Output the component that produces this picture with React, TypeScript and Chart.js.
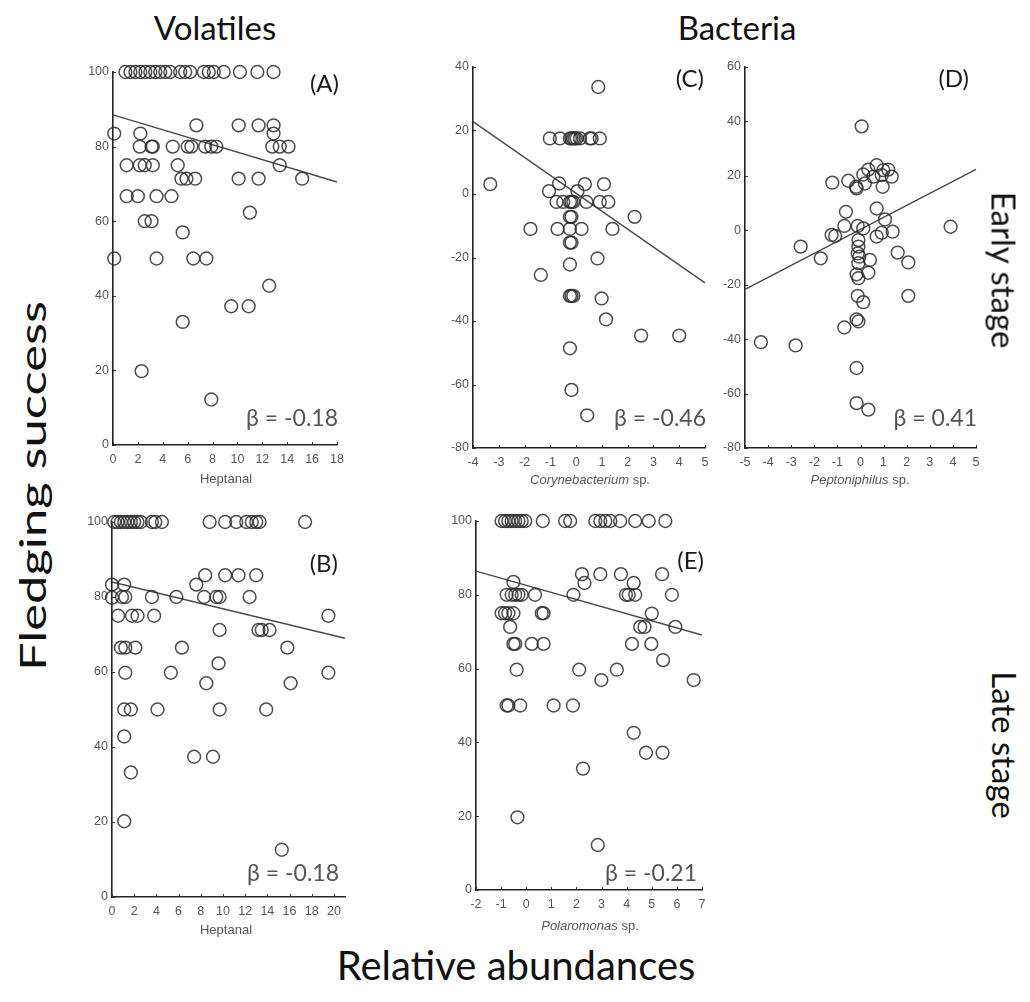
import React, { useEffect, useRef } from "react";
import { Chart, registerables } from "chart.js";
Chart.register(...registerables);

// ---------- DATA ----------
// Panel A: Heptanal (early) vs fledging success
const panelAPoints: number[][] = [
  [1.0, 100], [1.4, 100], [1.8, 100], [2.2, 100], [2.6, 100], [3.0, 100], [3.4, 100], [3.8, 100], [4.2, 100], [4.6, 100],
  [5.4, 100], [5.8, 100], [6.2, 100], [7.3, 100], [7.7, 100], [8.1, 100], [8.9, 100], [10.2, 100], [11.6, 100], [12.9, 100],
  [0.1, 83.5], [2.2, 83.5], [2.15, 80], [3.1, 80], [3.2, 80], [4.8, 80], [6.0, 80], [6.3, 80], [7.4, 80], [7.9, 80], [8.3, 80],
  [6.7, 85.7], [10.1, 85.7], [11.7, 85.7], [12.9, 85.7], [12.9, 83.5], [12.8, 80], [13.4, 80], [14.1, 80],
  [13.4, 75], [15.2, 71.4], [1.1, 75], [2.15, 75], [2.55, 75], [3.2, 75], [5.2, 75],
  [5.5, 71.4], [5.9, 71.4], [6.6, 71.4], [10.1, 71.4], [11.7, 71.4],
  [1.1, 66.7], [2.0, 66.7], [3.5, 66.7], [4.7, 66.7], [11.0, 62.3], [2.55, 60], [3.1, 60], [5.6, 57],
  [0.1, 50], [3.5, 50], [6.45, 50], [7.5, 50], [12.55, 42.7], [9.5, 37.2], [10.9, 37.2], [5.6, 33], [2.3, 19.8], [7.9, 12.2],
];
const panelALine: number[][] = [[0, 88.5], [18, 70.5]];

// Panel B: Heptanal (late) vs fledging success
const panelBPoints: number[][] = [
  [0.2, 100], [0.5, 100], [0.8, 100], [1.1, 100], [1.4, 100], [1.7, 100], [2.0, 100], [2.3, 100], [2.6, 100], [3.6, 100], [3.9, 100], [4.5, 100],
  [8.8, 100], [10.2, 100], [11.2, 100], [12.1, 100], [12.6, 100], [13.0, 100], [13.3, 100], [17.4, 100],
  [0, 83.3], [1.1, 83.3], [0, 79.8], [0.9, 80], [1.2, 80], [3.6, 80], [5.8, 80], [7.6, 83.3],
  [8.4, 85.8], [10.2, 85.8], [11.4, 85.8], [13.0, 85.8], [8.3, 80], [9.4, 80], [9.7, 80], [12.4, 80],
  [0.55, 75], [1.8, 75], [2.3, 75], [3.8, 75], [19.5, 75],
  [9.7, 71.2], [13.2, 71.2], [13.5, 71.2], [14.2, 71.2],
  [0.8, 66.5], [1.2, 66.5], [2.1, 66.5], [6.3, 66.5], [15.8, 66.5], [9.6, 62.3],
  [1.2, 59.8], [5.3, 59.8], [19.5, 59.8], [8.5, 57], [16.1, 57],
  [1.1, 50], [1.7, 50], [4.1, 50], [9.7, 50], [13.9, 50], [1.1, 42.8], [1.7, 33.2], [7.4, 37.4], [9.1, 37.4],
  [1.1, 20.2], [15.3, 12.6],
];
const panelBLine: number[][] = [[0, 84], [21, 69]];

// Panel C: Corynebacterium sp. (early), residual fledging success
const panelCPoints: number[][] = [
  [0.86, 33.7],
  [-1.02, 17.5], [-0.63, 17.5], [-0.24, 17.5], [-0.18, 17.5], [-0.11, 17.5], [-0.05, 17.5], [0.02, 17.5], [0.15, 17.5], [0.53, 17.5], [0.6, 17.5], [0.92, 17.5],
  [-3.33, 3.1], [-1.05, 0.9], [-0.66, 3.3], [0.34, 3.1], [1.08, 3.1], [0.05, 0.9],
  [-0.76, -2.5], [-0.5, -2.5], [-0.24, -2.5], [-0.18, -2.5], [-0.11, -2.5], [0.4, -2.5], [0.92, -2.5], [1.25, -2.5],
  [-0.18, -7.2], [-0.24, -7.2], [2.27, -7.2],
  [-1.77, -11], [-0.72, -11], [-0.24, -11], [0.21, -11], [1.41, -11],
  [-0.18, -15.3], [-0.24, -15.3], [0.83, -20.3], [-1.37, -25.5], [-0.24, -22.2],
  [-0.18, -32.1], [-0.24, -32.1], [-0.11, -32.1], [0.99, -32.9], [1.16, -39.5],
  [2.52, -44.6], [4.0, -44.6], [-0.24, -48.6], [-0.18, -61.7], [0.43, -69.7],
];
const panelCLine: number[][] = [[-4, 22.8], [5, -28]];

// Panel D: Peptoniphilus sp. (early), residual fledging success
const panelDPoints: number[][] = [
  [0.05, 38.2], [-1.22, 17.5], [-0.53, 18.2], [-0.19, 16.0], [-0.17, 15.4],
  [0.12, 20.5], [0.34, 22.3], [0.7, 23.9], [0.99, 22.1], [1.2, 22.3], [1.35, 19.7], [0.56, 19.7], [0.92, 20.3], [0.19, 17.2], [0.96, 16.0],
  [-2.59, -6.0], [-0.63, 6.8], [0.7, 8.0], [1.06, 4.0],
  [-0.7, 1.6], [-0.12, 1.6], [0.12, 0.7], [-1.25, -1.7], [-1.1, -2.1], [0.7, -2.3], [0.92, -0.9], [1.39, -0.5],
  [3.9, 1.3], [-1.72, -10.3],
  [-0.09, -3.6], [-0.09, -6.0], [-0.12, -8.5], [-0.05, -9.7], [-0.09, -12.1], [0.41, -10.9], [0.34, -15.6], [-0.17, -16.2], [-0.09, -17.6],
  [1.61, -8.2], [2.07, -11.8], [2.07, -24.1], [-0.12, -24.1], [0.12, -26.4],
  [-0.09, -33.5], [-0.17, -32.7], [-0.7, -35.7], [-4.31, -41.1], [-2.81, -42.3],
  [-0.17, -50.6], [-0.17, -63.5], [0.34, -65.9],
];
const panelDLine: number[][] = [[-5, -21.7], [5, 22.4]];

// Panel E: Polaromonas sp. (late) vs fledging success
const panelEPoints: number[][] = [
  [-0.98, 100], [-0.84, 100], [-0.71, 100], [-0.58, 100], [-0.44, 100], [-0.31, 100], [-0.18, 100], [-0.04, 100],
  [0.66, 100], [1.55, 100], [1.75, 100], [2.75, 100], [2.95, 100], [3.15, 100], [3.35, 100], [3.74, 100], [4.34, 100], [4.88, 100], [5.54, 100],
  [2.22, 85.6], [2.95, 85.6], [3.77, 85.6], [5.41, 85.6], [-0.51, 83.5], [2.32, 83.2], [4.28, 83.2],
  [-0.78, 80], [-0.58, 80], [-0.44, 80], [-0.31, 80], [-0.18, 80], [0.35, 80], [1.88, 80], [3.97, 80], [4.08, 80], [4.34, 80], [5.8, 80],
  [5.0, 74.9], [-0.98, 75], [-0.84, 75], [-0.71, 75], [-0.51, 75], [0.62, 75], [0.69, 75],
  [-0.64, 71.3], [4.54, 71.3], [4.71, 71.3], [5.94, 71.3],
  [-0.51, 66.7], [-0.44, 66.7], [0.22, 66.7], [0.69, 66.7], [4.21, 66.7], [4.98, 66.7],
  [5.45, 62.3], [-0.38, 59.7], [2.11, 59.7], [3.61, 59.7], [2.99, 56.9], [6.67, 56.9],
  [-0.78, 50], [-0.71, 50], [-0.24, 50], [1.09, 50], [1.86, 50],
  [4.28, 42.6], [4.77, 37.2], [5.43, 37.2], [2.26, 32.9], [-0.35, 19.7], [2.85, 12.2],
];
const panelELine: number[][] = [[-2, 86.4], [7, 69.1]];

// Tick values
const ticksY100 = [0, 20, 40, 60, 80, 100];
const ticksYC = [-80, -60, -40, -20, 0, 20, 40];
const ticksYD = [-80, -60, -40, -20, 0, 20, 40, 60];
const ticksXA = [0, 2, 4, 6, 8, 10, 12, 14, 16, 18];
const ticksXB = [0, 2, 4, 6, 8, 10, 12, 14, 16, 18, 20];
const ticksXC = [-4, -3, -2, -1, 0, 1, 2, 3, 4, 5];
const ticksXD = [-5, -4, -3, -2, -1, 0, 1, 2, 3, 4, 5];
const ticksXE = [-2, -1, 0, 1, 2, 3, 4, 5, 6, 7];

// ---------- LAYOUT ----------
const PADL = 45, PADR = 25, PADT = 20, PADB = 30;

type PanelCfg = {
  area: { left: number; right: number; top: number; bottom: number };
  points: number[][];
  line: number[][];
  xMin: number; xMax: number; yMin: number; yMax: number;
  xTicks: number[]; yTicks: number[];
  tag: string; tagDx: number; tagDy: number;
  beta: string; betaDx: number; betaDy: number;
};

const panels: PanelCfg[] = [
  { area: { left: 113, right: 337, top: 72, bottom: 445 }, points: panelAPoints, line: panelALine,
    xMin: 0, xMax: 18, yMin: 0, yMax: 100, xTicks: ticksXA, yTicks: ticksY100,
    tag: "(A)", tagDx: 2, tagDy: 20, beta: "β = -0.18", betaDx: 1, betaDy: -19 },
  { area: { left: 112, right: 345, top: 522, bottom: 897 }, points: panelBPoints, line: panelBLine,
    xMin: 0, xMax: 21, yMin: 0, yMax: 100, xTicks: ticksXB, yTicks: ticksY100,
    tag: "(B)", tagDx: -7, tagDy: 50, beta: "β = -0.18", betaDx: -6, betaDy: -16 },
  { area: { left: 473, right: 705, top: 67, bottom: 448 }, points: panelCPoints, line: panelCLine,
    xMin: -4, xMax: 5, yMin: -80, yMax: 40, xTicks: ticksXC, yTicks: ticksYC,
    tag: "(C)", tagDx: -1, tagDy: 20, beta: "β = -0.46", betaDx: 1, betaDy: -22 },
  { area: { left: 745, right: 976, top: 67, bottom: 448 }, points: panelDPoints, line: panelDLine,
    xMin: -5, xMax: 5, yMin: -80, yMax: 60, xTicks: ticksXD, yTicks: ticksYD,
    tag: "(D)", tagDx: -7, tagDy: 20, beta: "β = 0.41", betaDx: 1, betaDy: -22 },
  { area: { left: 476, right: 702, top: 521, bottom: 890 }, points: panelEPoints, line: panelELine,
    xMin: -2, xMax: 7, yMin: 0, yMax: 100, xTicks: ticksXE, yTicks: ticksY100,
    tag: "(E)", tagDx: 2, tagDy: 48, beta: "β = -0.21", betaDx: -5, betaDy: -9 },
];

const annotPlugin = {
  id: "annot",
  afterDraw(chart: any, _args: any, opts: any) {
    const { ctx, chartArea: a, scales } = chart;
    ctx.save();
    // inward tick marks
    ctx.strokeStyle = "#333";
    ctx.lineWidth = 1;
    ctx.beginPath();
    for (const t of scales.x.ticks) {
      const px = Math.round(scales.x.getPixelForValue(t.value)) + 0.5;
      ctx.moveTo(px, a.bottom);
      ctx.lineTo(px, a.bottom - 3);
    }
    for (const t of scales.y.ticks) {
      const py = Math.round(scales.y.getPixelForValue(t.value)) + 0.5;
      ctx.moveTo(a.left, py);
      ctx.lineTo(a.left + 3, py);
    }
    ctx.stroke();
    ctx.textAlign = "right";
    ctx.textBaseline = "alphabetic";
    ctx.font = "24px Lato";
    ctx.fillStyle = "#1a1a1a";
    ctx.fillText(opts.tag, a.right + opts.tagDx, a.top + opts.tagDy);
    ctx.font = "23px Lato";
    ctx.fillStyle = "#555";
    ctx.fillText(opts.beta, a.right + opts.betaDx, a.bottom + opts.betaDy);
    ctx.restore();
  },
};

function Panel({ cfg }: { cfg: PanelCfg }) {
  const ref = useRef<HTMLCanvasElement>(null);
  const w = cfg.area.right - cfg.area.left + PADL + PADR;
  const h = cfg.area.bottom - cfg.area.top + PADT + PADB;
  useEffect(() => {
    if (!ref.current) return;
    const tickFont = { family: "'Liberation Sans', Arial, sans-serif", size: 12.5 };
    const chart = new Chart(ref.current, {
      type: "scatter",
      data: {
        datasets: [
          {
            type: "scatter",
            data: cfg.points.map(([x, y]) => ({ x, y })),
            pointStyle: "circle",
            pointRadius: 6.4,
            pointBorderWidth: 1.5,
            pointBorderColor: "rgba(45,45,45,0.85)",
            pointBackgroundColor: "rgba(0,0,0,0)",
            clip: false,
          } as any,
          {
            type: "line",
            data: cfg.line.map(([x, y]) => ({ x, y })),
            borderColor: "#4a4a4a",
            borderWidth: 1.4,
            pointRadius: 0,
            fill: false,
            clip: false,
          } as any,
        ],
      },
      options: {
        animation: false,
        responsive: false,
        maintainAspectRatio: false,
        layout: { padding: { top: PADT, right: PADR, left: 0, bottom: 0 } },
        plugins: {
          legend: { display: false },
          tooltip: { enabled: false },
          annot: { tag: cfg.tag, tagDx: cfg.tagDx, tagDy: cfg.tagDy, beta: cfg.beta, betaDx: cfg.betaDx, betaDy: cfg.betaDy },
        } as any,
        scales: {
          x: {
            type: "linear",
            min: cfg.xMin,
            max: cfg.xMax,
            afterBuildTicks: (s: any) => { s.ticks = cfg.xTicks.map((v) => ({ value: v })); },
            afterFit: (s: any) => { s.height = PADB; },
            grid: { display: true, drawOnChartArea: false, drawTicks: false },
            border: { display: true, color: "#222", width: 1.6 },
            ticks: { font: tickFont, color: "#555", padding: 7, maxRotation: 0, autoSkip: false },
          },
          y: {
            type: "linear",
            min: cfg.yMin,
            max: cfg.yMax,
            afterBuildTicks: (s: any) => { s.ticks = cfg.yTicks.map((v) => ({ value: v })); },
            afterFit: (s: any) => { s.width = PADL; },
            grid: { display: true, drawOnChartArea: false, drawTicks: false },
            border: { display: true, color: "#222", width: 1.6 },
            ticks: { font: tickFont, color: "#555", padding: 4, autoSkip: false },
          },
        },
      },
      plugins: [annotPlugin],
    } as any);
    return () => chart.destroy();
  }, []);
  return (
    <canvas
      ref={ref}
      width={w}
      height={h}
      style={{ position: "absolute", left: cfg.area.left - PADL, top: cfg.area.top - PADT, width: w, height: h }}
    />
  );
}

const bigFont = "Lato, 'Open Sans', sans-serif";
const axFont = "'Liberation Sans', Arial, sans-serif";

function Txt({ x, y, size, rot = 0, sx = 1, color = "#111", family = bigFont, children }: any) {
  return (
    <div
      style={{
        position: "absolute",
        left: x,
        top: y,
        transform: `translate(-50%, -50%) rotate(${rot}deg) scaleX(${sx})`,
        fontFamily: family,
        fontSize: size,
        color,
        whiteSpace: "nowrap",
        lineHeight: 1,
      }}
    >
      {children}
    </div>
  );
}

export default function App() {
  return (
    <div style={{ position: "absolute", left: 0, top: 0, width: 1030, height: 1002, background: "#fff", overflow: "hidden" }}>
      {panels.map((p, i) => (
        <Panel key={i} cfg={p} />
      ))}
      <Txt x={215} y={27} size={33}>Volatiles</Txt>
      <Txt x={737} y={27} size={33}>Bacteria</Txt>
      <Txt x={31} y={486} size={37} rot={-90} sx={1.37}>Fledging success</Txt>
      <Txt x={1004} y={270} size={33} rot={90}>Early stage</Txt>
      <Txt x={1004} y={745} size={33} rot={90}>Late stage</Txt>
      <Txt x={516} y={965} size={40}>Relative abundances</Txt>
      <Txt x={226} y={478} size={13} color="#555" family={axFont}>Heptanal</Txt>
      <Txt x={590} y={479} size={13} color="#555" family={axFont}><i>Corynebacterium</i> sp.</Txt>
      <Txt x={860} y={479} size={13} color="#555" family={axFont}><i>Peptoniphilus</i> sp.</Txt>
      <Txt x={226} y={929} size={13} color="#555" family={axFont}>Heptanal</Txt>
      <Txt x={590} y={925} size={13} color="#555" family={axFont}><i>Polaromonas</i> sp.</Txt>
    </div>
  );
}
